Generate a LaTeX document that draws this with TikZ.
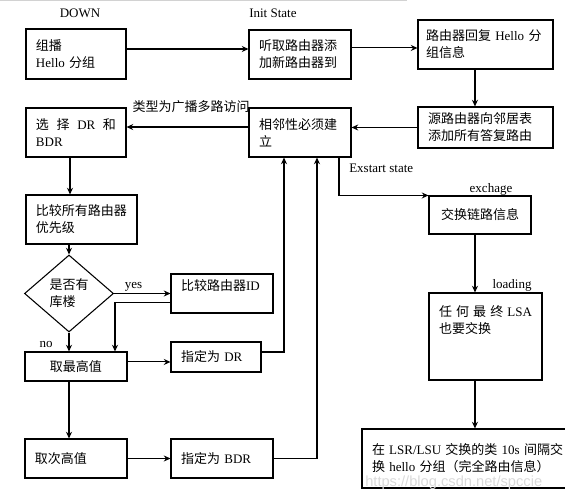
\documentclass[tikz,border=0pt]{standalone}
\usepackage{fontspec}
\setmainfont{Liberation Serif}
\newfontfamily\zh{Noto Sans CJK SC}
\newfontfamily\wm{Liberation Sans}
\usepackage{xcolor}
\usepackage{tikz}
\usetikzlibrary{arrows.meta,positioning,shapes.geometric,calc}
\newcommand\fs{\fontsize{9.75pt}{12.75pt}\selectfont}

\begin{document}
\begin{tikzpicture}[x=0.75pt,y=-0.75pt,
  >={Stealth[length=5pt,width=4.5pt]},
  box/.style={draw, line width=0.8pt, inner xsep=7.5pt, inner ysep=2pt, align=left, font=\fs},
  lbl/.style={font=\fs, inner sep=0pt},
  line/.style={->, line width=0.8pt}]
\useasboundingbox (0,0) rectangle (565,502);
\draw[gray!35] (0,0.5) -- (407,0.5);

% States
\node[lbl] (down) at (80,13) {DOWN};
\node[lbl, anchor=west] (init) at (249,13) {Init State};

% Top row
\node[box, text width=60pt, minimum height=37.5pt] (multicast) at (76,54) {{\zh 组播}\\Hello {\zh 分组}};
\node[box, text width=61.5pt, minimum height=36.75pt] (listen) at (300,54.5) {{\zh 听取路由器添}\\{\zh 加新路由器到}};
\node[box, inner xsep=6pt, text width=89.25pt, minimum height=36.75pt] (reply) at (485.5,44.5) {\mbox{{\zh 路由器回复} Hello {\zh 分}}\\{\zh 组信息}};
\node[box, text width=86.25pt, minimum height=30.75pt] (neighbour) at (485.5,127.5) {{\zh 源路由器向邻居表}\\{\zh 添加所有答复路由}};
\node[box, text width=61.5pt, minimum height=36.75pt] (adjacency) at (300,132.5) {{\zh 相邻性必须建}\\{\zh 立}};
\node[box, text width=60pt, minimum height=36.75pt] (elect) at (76,132.5) {{\zh 选}\hfill{\zh 择}\hfill DR\hfill{\zh 和}\\BDR};

% Election
\node[box, text width=68.25pt, minimum height=36.75pt] (priority) at (81.5,219.5) {{\zh 比较所有路由器}\\{\zh 优先级}};
\node[draw, diamond, line width=0.8pt, inner sep=0pt, minimum width=66.75pt, minimum height=57.75pt, align=left, font=\fs] (tie) at (69,293.5) {{\zh 是否有}\\{\zh 库楼}};
\node[box, text width=61.5pt, minimum height=29.25pt] (routerid) at (222,293.5) {{\zh 比较路由器}ID\\\mbox{}};
\node[box, text width=61.5pt, minimum height=21.75pt, align=center] (highest) at (76,366.5) {{\zh 取最高值}};
\node[box, text width=52.5pt, minimum height=22.5pt] (dr) at (216,357) {{\zh 指定为} DR};
\node[box, text width=61.5pt, minimum height=29.25pt] (second) at (76,458.5) {{\zh 取次高值}};
\node[box, text width=61.5pt, minimum height=29.25pt] (bdr) at (222,458.5) {{\zh 指定为} BDR};

% Exchange
\node[box, text width=61.5pt, minimum height=28.5pt, align=center] (exchange) at (480,215) {{\zh 交换链路信息}};
\node[box, text width=69.75pt, minimum height=65.25pt] (lsa) at (485.5,336.5) {{\zh 任}\hfill{\zh 何}\hfill{\zh 最}\hfill{\zh 终}\hfill LSA\\{\zh 也要交换}\\\mbox{}\\\mbox{}};
\node[box, text width=143.25pt, minimum height=44.25pt] (full) at (467.5,458.5) {{\zh 在}\hfill LSR/LSU\hfill{\zh 交换的类}\hfill 10s\hfill{\zh 间隔交}\\{\zh 换} hello {\zh 分组（完全路由信息）}};

% Connectors
\draw[line] ([yshift=3.75pt]multicast.east) -- ([yshift=3.75pt]multicast.east -| listen.west);
\draw[line] ([yshift=4.9pt]listen.east) -- ([yshift=4.9pt]listen.east -| reply.west);
\draw[line] ([xshift=-7.9pt]reply.south) -- ([xshift=-7.9pt]reply.south |- neighbour.north);
\draw[line] (neighbour.west) -- (neighbour.west -| adjacency.east);
\draw[line] ([yshift=4.1pt]adjacency.west) -- ([yshift=4.1pt]adjacency.west -| elect.east);
\node[lbl] (bcast) at (191,107) {\zh 类型为广播多路访问};
\draw[line] ([xshift=-4.5pt]elect.south) -- ([xshift=-4.5pt]elect.south |- priority.north);
\draw[line] (tie.north |- priority.south) -- (tie.north);
\draw[line] (tie.east) -- (tie.east -| routerid.west);
\node[lbl] (yes) at (133.5,287) {yes};
\draw[line] ([yshift=-7.1pt]routerid.west) -| ([xshift=29.25pt]highest.north);
\draw[line] (tie.south) -- (tie.south |- highest.north);
\node[lbl] (no) at (46,345) {no};
\draw[line] ([yshift=3.4pt]highest.east) -- ([yshift=3.4pt]highest.east -| dr.west);
\draw[line] ([yshift=3.75pt]dr.east) -| ([xshift=-12pt]adjacency.south);
\draw[line] (highest.south -| tie.south) -- (second.north -| tie.south);
\draw[line] (second.east) -- (second.east -| bdr.west);
\draw[line] (bdr.east) -| ([xshift=12.75pt]adjacency.south);
\draw[line] ([xshift=29.25pt]adjacency.south) |- (exchange.north west);
\node[lbl, anchor=west] (exstart) at (349,168) {Exstart state};
\node[lbl] (exchage) at (491,189) {exchage};
\draw[line] ([xshift=-3.75pt]exchange.south) -- ([xshift=-3.75pt]exchange.south |- lsa.north);
\node[lbl] (loading) at (512,285) {loading};
\draw[line] ([xshift=-7.9pt]lsa.south) -- ([xshift=-7.9pt]lsa.south |- full.north);

% Watermark
\node[font=\wm\fontsize{11pt}{13pt}\selectfont, text=gray!30, inner sep=0pt, anchor=west] (mark) at (365,483) {https://blog.csdn.net/spccie};
\end{tikzpicture}
\end{document}
